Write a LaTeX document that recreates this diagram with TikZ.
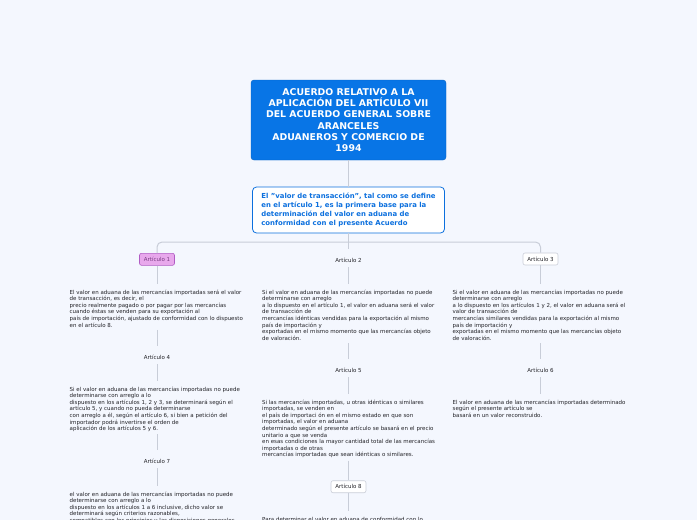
\documentclass[tikz,border=0pt]{standalone}
\usepackage{fontspec}
\setmainfont{DejaVu Sans}
\definecolor{bg}{RGB}{244,247,254}
\definecolor{linec}{RGB}{200,205,216}
\definecolor{tblue}{RGB}{8,117,230}
\definecolor{sblue}{RGB}{12,112,222}
\definecolor{pinkf}{RGB}{232,168,236}
\definecolor{pinkd}{RGB}{176,92,196}
\definecolor{pinkt}{RGB}{120,60,130}
\definecolor{boxd}{RGB}{202,206,216}
\definecolor{txt}{RGB}{35,35,40}
\begin{document}
\begin{tikzpicture}[x=1pt,y=-1pt,
  conn/.style={draw=linec, line width=1pt},
  down/.style={conn, shorten >=5pt},
  up/.style={conn, shorten <=2.5pt},
  titlebox/.style={fill=tblue, draw=tblue!85!black, rounded corners=3pt, text=white, font=\bfseries\fontsize{9.35}{11.2}\selectfont, align=center, minimum width=195pt, minimum height=80pt, inner sep=0pt},
  subbox/.style={fill=white, draw=sblue, line width=0.8pt, rounded corners=4pt, text=sblue, font=\bfseries\fontsize{6.9}{8.8}\selectfont, align=left, minimum width=192pt, minimum height=46pt, inner sep=0pt},
  lab/.style={font=\fontsize{5.5}{6.6}\selectfont, text=txt, inner sep=0pt, text height=13pt, text depth=5pt, anchor=base},
  labbox/.style={font=\fontsize{5.5}{6.6}\selectfont, text=txt, draw=boxd, fill=white, rounded corners=2pt, minimum width=35pt, minimum height=12pt, inner sep=0pt, line width=0.6pt},
  para/.style={font=\fontsize{5.5}{6.6}\selectfont, text=txt, align=left, inner sep=0pt, anchor=north west},
]
\useasboundingbox[fill=bg] (0,0) rectangle (697,520);
\clip (0,0) rectangle (697,520);

\node[titlebox] (title) at (348.5,120) {ACUERDO RELATIVO A LA\\APLICACIÓN DEL ARTÍCULO VII\\DEL ACUERDO GENERAL SOBRE\\ARANCELES\\ADUANEROS Y COMERCIO DE\\1994};
\node[subbox] (sub) at (348.5,210) {El "valor de transacción", tal como se define\\en el artículo 1, es la primera base para la\\determinación del valor en aduana de\\conformidad con el presente Acuerdo};
\coordinate (bus) at (348.5,242);

\node[labbox, fill=pinkf, draw=pinkd, text=pinkt] (a1) at (157,259.3) {Artículo 1};
\node[lab] (a2) at (348.5,262) {Artículo 2};
\node[labbox] (a3) at (540.5,259) {Artículo 3};

\node[para] (t1) at (69.5,289.2) {\strut El valor en aduana de las mercancías importadas será el valor\\
de transacción, es decir, el\\
precio realmente pagado o por pagar por las mercancías\\
cuando éstas se venden para su exportación al\\
país de importación, ajustado de conformidad con lo dispuesto\\
en el artículo 8.};
\node[para] (t2) at (262,289.2) {\strut Si el valor en aduana de las mercancías importadas no puede\\
determinarse con arreglo\\
a lo dispuesto en el artículo 1, el valor en aduana será el valor\\
de transacción de\\
mercancías idénticas vendidas para la exportación al mismo\\
país de importación y\\
exportadas en el mismo momento que las mercancías objeto\\
de valoración.};
\node[para] (t3) at (452.5,289.2) {\strut Si el valor en aduana de las mercancías importadas no puede\\
determinarse con arreglo\\
a lo dispuesto en los artículos 1 y 2, el valor en aduana será el\\
valor de transacción de\\
mercancías similares vendidas para la exportación al mismo\\
país de importación y\\
exportadas en el mismo momento que las mercancías objeto\\
de valoración.};

\node[lab] (a4) at (157,359) {Artículo 4};
\node[para] (t4) at (69.5,386.2) {\strut Si el valor en aduana de las mercancías importadas no puede\\
determinarse con arreglo a lo\\
dispuesto en los artículos 1, 2 y 3, se determinará según el\\
artículo 5, y cuando no pueda determinarse\\
con arreglo a él, según el artículo 6, si bien a petición del\\
importador podrá invertirse el orden de\\
aplicación de los artículos 5 y 6.};
\node[lab] (a7) at (157,463) {Artículo 7};
\node[para] (t7) at (69.5,491.2) {\strut el valor en aduana de las mercancías importadas no puede\\
determinarse con arreglo a lo\\
dispuesto en los artículos 1 a 6 inclusive, dicho valor se\\
determinará según criterios razonables,\\
compatibles con los principios y las disposiciones generales};

\node[lab] (a5) at (348.5,372) {Artículo 5};
\node[para] (t5) at (262,399.2) {\strut Si las mercancías importadas, u otras idénticas o similares\\
importadas, se venden en\\
el país de importaci ón en el mismo estado en que son\\
importadas, el valor en aduana\\
determinado según el presente artículo se basará en el precio\\
unitario a que se venda\\
en esas condiciones la mayor cantidad total de las mercancías\\
importadas o de otras\\
mercancías importadas que sean idénticas o similares.};
\node[labbox] (a8) at (348.5,486.7) {Artículo 8};
\node[para] (t8) at (262,516.2) {\strut Para determinar el valor en aduana de conformidad con lo};

\node[lab] (a6) at (540.5,372) {Artículo 6};
\node[para] (t6) at (452.5,399.2) {\strut El valor en aduana de las mercancías importadas determinado\\
según el presente artículo se\\
basará en un valor reconstruido.};

% connectors
\draw[conn] (title.south) -- (sub.north);
\draw[conn] (sub.south) -- (bus) -- (a2.north);
\draw[conn, rounded corners=5pt] (a1.north) |- (bus) -| (a3.north);

\draw[down] (a1.south) -- (a1.south |- t1.north);
\draw[down] (a2.south) -- (a2.south |- t2.north);
\draw[down] (a3.south) -- (a3.south |- t3.north);

\draw[up] (a4.north |- t1.south) -- (a4.north);
\draw[down] (a4.south) -- (a4.south |- t4.north);
\draw[up] (a7.north |- t4.south) -- (a7.north);
\draw[down] (a7.south) -- (a7.south |- t7.north);

\draw[up] (a5.north |- t2.south) -- (a5.north);
\draw[down] (a5.south) -- (a5.south |- t5.north);
\draw[up] (a8.north |- t5.south) -- (a8.north);
\draw[down] (a8.south) -- (a8.south |- t8.north);

\draw[up] (a6.north |- t3.south) -- (a6.north);
\draw[down] (a6.south) -- (a6.south |- t6.north);
\end{tikzpicture}
\end{document}
